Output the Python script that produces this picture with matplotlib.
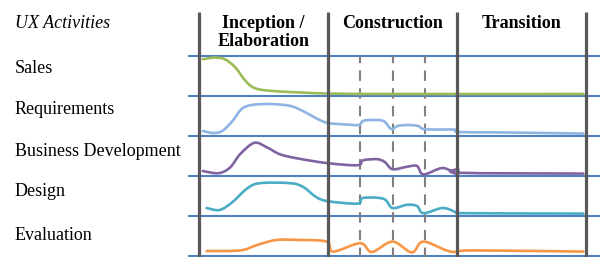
import matplotlib.pyplot as plt
from matplotlib.path import Path
from matplotlib.patches import PathPatch

plt.rcParams["font.family"] = ["Liberation Serif", "DejaVu Serif"]

activities = ["Sales", "Requirements", "Business Development", "Design", "Evaluation"]
colors = ["#9BBB59", "#8DB4E2", "#8064A2", "#4BACC6", "#F79646"]
phases = ["Inception /\nElaboration", "Construction", "Transition"]
phase_bounds = [0, 1, 2, 3]
iterations = [1.25, 1.5, 1.75]

# x = time in phase units, v = level within the activity row (0..1)
sales_t = [0.03, 0.09, 0.13, 0.2, 0.28, 0.36, 0.43, 0.55, 0.78, 1.02, 1.56, 2.98]
sales_v = [0.92, 0.95, 0.96, 0.92, 0.72, 0.38, 0.2, 0.13, 0.09, 0.06, 0.05, 0.05]

req_t = [0.03, 0.11, 0.18, 0.26, 0.33, 0.41, 0.55, 0.71, 0.82, 0.92, 1.0, 1.13, 1.24, 1.27,
         1.34, 1.43, 1.49, 1.54, 1.62, 1.7, 1.74, 1.87, 1.99, 2.01, 2.33, 2.98]
req_v = [0.125, 0.075, 0.125, 0.375, 0.675, 0.775, 0.8, 0.75, 0.6, 0.425, 0.325, 0.29, 0.275, 0.375,
         0.4, 0.375, 0.175, 0.25, 0.275, 0.25, 0.175, 0.16, 0.16, 0.1, 0.09, 0.06]

bus_t = [0.03, 0.15, 0.24, 0.32, 0.43, 0.53, 0.63, 0.78, 1.0, 1.23, 1.27, 1.38, 1.44, 1.5,
         1.61, 1.69, 1.74, 1.89, 2.0, 2.01, 2.02, 2.98]
bus_v = [0.125, 0.07, 0.21, 0.55, 0.83, 0.71, 0.54, 0.43, 0.32, 0.27, 0.39, 0.42, 0.35, 0.17,
         0.23, 0.25, 0.04, 0.2, 0.04, 0.17, 0.08, 0.06]

des_t = [0.06, 0.16, 0.26, 0.37, 0.47, 0.71, 0.81, 0.91, 1.0, 1.23, 1.27, 1.43, 1.5, 1.61,
         1.69, 1.74, 1.89, 2.0, 2.08, 2.98]
des_v = [0.2, 0.15, 0.35, 0.68, 0.82, 0.82, 0.72, 0.47, 0.37, 0.31, 0.45, 0.43, 0.2, 0.28,
         0.25, 0.07, 0.2, 0.09, 0.07, 0.06]

eva_t = [0.06, 0.32, 0.45, 0.6, 0.78, 0.99, 1.04, 1.25, 1.34, 1.5, 1.65, 1.74, 1.95, 2.12, 2.98]
eva_v = [0.125, 0.14, 0.275, 0.4, 0.4, 0.36, 0.11, 0.32, 0.1, 0.36, 0.09, 0.36, 0.11, 0.14, 0.11]

series = [(sales_t, sales_v), (req_t, req_v), (bus_t, bus_v), (des_t, des_v), (eva_t, eva_v)]


def smooth_path(xs, ys):
    # Catmull-Rom through the points, drawn as cubic Bezier segments
    pts = list(zip(xs, ys))
    verts = [pts[0]]
    codes = [Path.MOVETO]
    for k in range(len(pts) - 1):
        p0 = pts[k - 1] if k > 0 else pts[k]
        p1, p2 = pts[k], pts[k + 1]
        p3 = pts[k + 2] if k + 2 < len(pts) else p2
        c1 = (p1[0] + (p2[0] - p0[0]) / 6, p1[1] + (p2[1] - p0[1]) / 6)
        c2 = (p2[0] - (p3[0] - p1[0]) / 6, p2[1] - (p3[1] - p1[1]) / 6)
        verts += [c1, c2, p2]
        codes += [Path.CURVE4] * 3
    return Path(verts, codes)


fig = plt.figure(figsize=(6, 2.57), dpi=100)
ax = fig.add_axes([199 / 600, 1 / 257, 387 / 600, 200 / 257])
ax.set_xlim(0, 3)
ax.set_ylim(0, 5)
ax.axis("off")

# row separators
ax.hlines(range(6), -0.085, 3.12, color="#4F81BD", lw=1.5, clip_on=False, zorder=1)

# iteration dashes
for x in iterations:
    ax.plot([x, x], [-0.05, 5], color="#808080", lw=1.5, dashes=(5, 3.5), clip_on=False, zorder=2)

# phase boundaries
for x in phase_bounds:
    ax.plot([x, x], [-0.05, 6.1], color="#595959", lw=2.3, clip_on=False, zorder=4,
            solid_capstyle="butt")

for i, ((t, v), c) in enumerate(zip(series, colors)):
    base = 4 - i
    ax.add_patch(PathPatch(smooth_path(t, [base + val for val in v]), facecolor="none",
                           edgecolor=c, lw=1.9, zorder=3, joinstyle="round", capstyle="round"))

# phase titles
ax.text(0.5, 6.03, phases[0], ha="center", va="top", fontsize=13, fontweight="bold",
        linespacing=1.1, clip_on=False)
ax.text(1.5, 6.03, phases[1], ha="center", va="top", fontsize=13, fontweight="bold", clip_on=False)
ax.text(2.5, 6.03, phases[2], ha="center", va="top", fontsize=13, fontweight="bold", clip_on=False)

# row labels
fig.text(15 / 600, 1 - 24 / 257, "UX Activities", fontsize=13, style="italic", va="center")
label_y = [69, 109, 151, 191, 235]
for name, y in zip(activities, label_y):
    fig.text(15 / 600, 1 - y / 257, name, fontsize=13, va="center")

fig.savefig("out.png", dpi=100)
